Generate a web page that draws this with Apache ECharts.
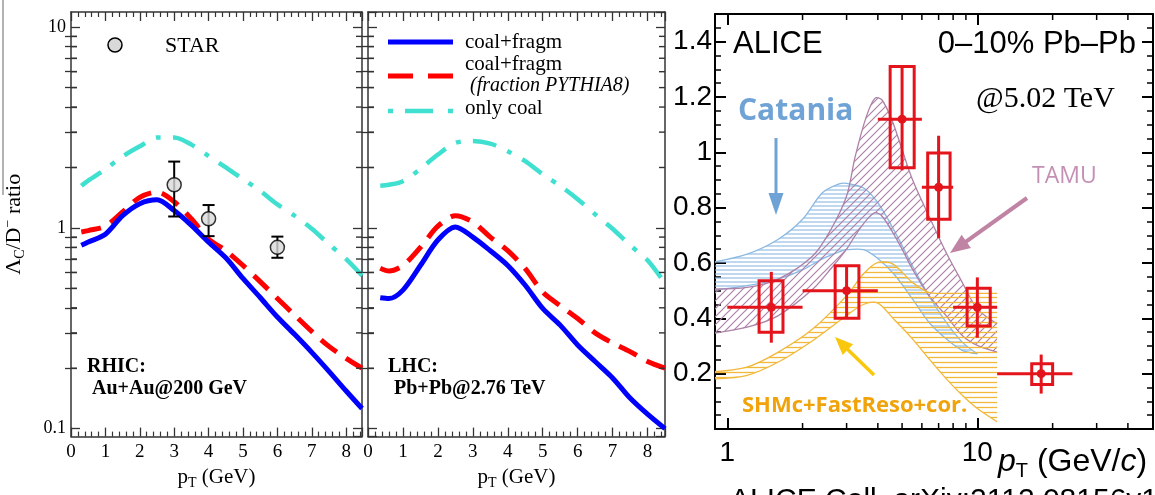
<!DOCTYPE html>
<html><head><meta charset="utf-8">
<script src="https://cdn.jsdelivr.net/npm/echarts@6/dist/echarts.min.js"></script>
<style>html,body{margin:0;padding:0;background:#fff}#c{width:1155px;height:495px}</style>
</head><body><div id="c"></div>
<script>
// ---------------- DATA ----------------
// RHIC Au+Au 200 GeV (left panel)
const rhicX = [0.3, 0.5, 1, 1.5, 2, 2.5, 3, 3.5, 4, 4.5, 5, 5.5, 6, 6.5, 7, 7.5, 8, 8.46];
const rhicCoalFragm = [0.82, 0.85, 0.93, 1.15, 1.32, 1.38, 1.22, 1.03, 0.85, 0.71, 0.56, 0.45, 0.36, 0.295, 0.24, 0.193, 0.154, 0.126];
const rhicCoalFragmPythia = [0.955, 0.97, 1.02, 1.2, 1.42, 1.51, 1.35, 1.11, 0.88, 0.77, 0.65, 0.54, 0.445, 0.368, 0.305, 0.257, 0.224, 0.2];
const rhicOnlyCoal = [1.62, 1.72, 1.96, 2.27, 2.55, 2.82, 2.82, 2.6, 2.28, 2.0, 1.75, 1.53, 1.31, 1.15, 0.99, 0.83, 0.70, 0.58];
// STAR data
const starX = [3, 4, 6];
const starY = [1.64, 1.11, 0.80];
const starLo = [1.14, 0.91, 0.71];
const starHi = [2.14, 1.30, 0.905];
// LHC Pb+Pb 2.76 TeV (middle panel)
const lhcX = [0.35, 0.6, 1, 1.5, 2, 2.5, 3, 3.5, 4, 4.5, 5, 5.5, 6, 6.5, 7, 7.5, 8, 8.5];
const lhcCoalFragm = [0.449, 0.445, 0.49, 0.65, 0.87, 1.01, 0.90, 0.77, 0.65, 0.518, 0.397, 0.328, 0.261, 0.216, 0.179, 0.142, 0.118, 0.1];
const lhcCoalFragmPythia = [0.63, 0.61, 0.65, 0.80, 1.02, 1.15, 1.07, 0.90, 0.77, 0.627, 0.48, 0.41, 0.354, 0.30, 0.267, 0.242, 0.216, 0.2];
const lhcOnlyCoal = [1.62, 1.64, 1.71, 1.97, 2.32, 2.65, 2.71, 2.63, 2.41, 2.15, 1.85, 1.62, 1.39, 1.17, 0.99, 0.82, 0.69, 0.53];
// ALICE 0-10% Pb-Pb 5.02 TeV (right panel)
const aliceX = [1.5, 3, 5, 7, 10, 18];
const aliceY = [0.44, 0.50, 1.12, 0.874, 0.44, 0.20];
const aliceXLo = [1, 2, 4, 6, 8, 12];
const aliceXHi = [2, 4, 6, 8, 12, 24];
const aliceStatLo = [0.312, 0.40, 0.935, 0.69, 0.33, 0.128];
const aliceStatHi = [0.568, 0.59, 1.31, 1.06, 0.548, 0.269];
const aliceSysLo = [0.35, 0.40, 0.944, 0.758, 0.372, 0.161];
const aliceSysHi = [0.536, 0.59, 1.31, 0.998, 0.509, 0.236];
const aliceBoxXLo = [1.34, 2.70, 4.48, 6.33, 9.1, 16.5];
const aliceBoxXHi = [1.67, 3.36, 5.59, 7.78, 11.26, 20.0];
// Model bands
const catX = [0.85, 1.2, 1.6, 2.0, 2.4, 2.8, 3.0, 3.5, 4.0, 4.7, 5.5, 6.4, 7.5, 8.7, 10];
const catHi = [0.60, 0.632, 0.686, 0.758, 0.854, 0.886, 0.888, 0.872, 0.818, 0.71, 0.59, 0.482, 0.386, 0.314, 0.272];
const catLo = [0.50, 0.518, 0.542, 0.575, 0.615, 0.64, 0.648, 0.648, 0.616, 0.554, 0.47, 0.386, 0.326, 0.284, 0.272];
const tamuX = [0.85, 1.2, 1.6, 2.2, 2.6, 3.0, 3.25, 3.6, 3.9, 4.15, 4.55, 5.0, 5.5, 6.4, 7.5, 8.7, 10, 12];
const tamuHi = [0.506, 0.512, 0.542, 0.626, 0.722, 0.842, 0.986, 1.13, 1.196, 1.19, 1.118, 1.01, 0.902, 0.77, 0.638, 0.53, 0.434, 0.38];
const tamuLo = [0.344, 0.368, 0.41, 0.506, 0.58, 0.65, 0.70, 0.755, 0.782, 0.77, 0.716, 0.65, 0.578, 0.482, 0.41, 0.338, 0.302, 0.278];
const shmX = [0.85, 1.2, 1.6, 2.2, 3.0, 3.5, 4.0, 4.6, 5.5, 6.4, 7.5, 8.7, 10, 12];
const shmHi = [0.206, 0.224, 0.278, 0.362, 0.482, 0.56, 0.602, 0.596, 0.53, 0.494, 0.49, 0.49, 0.49, 0.49];
const shmLo = [0.18, 0.194, 0.242, 0.32, 0.41, 0.45, 0.455, 0.40, 0.326, 0.254, 0.182, 0.122, 0.074, 0.026];
// Tick labels
const logYLabels = {'-1': '0.1', '0': '1', '1': '10'};
const logXLabels = {'0': '1', '1': '10'};

// ---------------- HELPERS ----------------
const serif = 'Liberation Serif';
const sans = 'Liberation Sans';
const axC = '#333';
const zip = (a, b) => a.map((v, i) => [v, b[i]]);
function decadeLabel(map) {
  return v => { const l = Math.log10(v), r = Math.round(l); return Math.abs(l - r) < 1e-6 && map[r] !== undefined ? map[r] : ''; };
}
function hatch(color, kind, gap, lw) {
  const c = document.createElement('canvas');
  c.width = gap; c.height = gap;
  const g = c.getContext('2d');
  g.strokeStyle = color; g.lineWidth = lw;
  g.beginPath();
  if (kind === 'h') { g.moveTo(0, gap / 2); g.lineTo(gap, gap / 2); }
  else { g.moveTo(-1, gap + 1); g.lineTo(gap + 1, -1); g.moveTo(-1, 1); g.lineTo(1, -1); g.moveTo(gap - 1, gap + 1); g.lineTo(gap + 1, gap - 1); }
  g.stroke();
  return {image: c, repeat: 'repeat'};
}
function arrow(x1, y1, x2, y2, color, w, hl, hw) {
  const dx = x2 - x1, dy = y2 - y1, L = Math.hypot(dx, dy), ux = dx / L, uy = dy / L;
  const bx = x2 - ux * hl, by = y2 - uy * hl;
  return {type: 'group', children: [
    {type: 'line', shape: {x1, y1, x2: bx + ux * 2, y2: by + uy * 2}, style: {stroke: color, lineWidth: w}},
    {type: 'polygon', shape: {points: [[x2, y2], [bx - uy * hw / 2, by + ux * hw / 2], [bx + uy * hw / 2, by - ux * hw / 2]]}, style: {fill: color}}
  ]};
}
const subRich = {
  n: {fontFamily: serif, fontSize: 21, color: '#000'},
  t: {fontFamily: serif, fontSize: 14, color: '#000', verticalAlign: 'bottom', padding: [12, 0, 0, 0]}
};
function linX(gi, max, pos, show) {
  return {type: 'value', gridIndex: gi, position: pos, min: 0, max, interval: 1,
    axisLine: {show: true, onZero: false, lineStyle: {color: axC, width: 1.5}},
    axisTick: {show: true, inside: true, length: 9, lineStyle: {color: axC, width: 1.3}},
    minorTick: {show: true, splitNumber: 5, length: 5, lineStyle: {color: axC, width: 1.2}},
    splitLine: {show: false}, minorSplitLine: {show: false},
    axisLabel: {show: show, showMaxLabel: false, margin: 6, fontFamily: serif, fontSize: 19, color: '#000'},
    name: show ? '{n|p}{t|T}{n| (GeV)}' : '', nameLocation: 'middle', nameGap: 21,
    nameTextStyle: {rich: subRich}};
}
function logY(gi, pos, show, name) {
  return {type: 'log', logBase: 10, gridIndex: gi, position: pos, min: 0.0913, max: 11.9,
    axisLine: {show: true, onZero: false, lineStyle: {color: axC, width: 1.5}},
    axisTick: {show: true, inside: true, length: 9, lineStyle: {color: axC, width: 1.3}},
    minorTick: {show: false}, splitLine: {show: false}, minorSplitLine: {show: false},
    axisLabel: {show: show, formatter: decadeLabel(logYLabels), showMinLabel: false, showMaxLabel: false, margin: 5, fontFamily: serif, fontSize: 18, color: '#000'},
    name: name || '', nameLocation: 'middle', nameGap: 44, nameRotate: 90,
    nameTextStyle: {rich: {
      n: {fontFamily: serif, fontSize: 22, color: '#000'},
      t: {fontFamily: serif, fontSize: 14, color: '#000', verticalAlign: 'bottom', padding: [12, 0, 0, 0]},
      s: {fontFamily: serif, fontSize: 14, color: '#000', verticalAlign: 'top', padding: [0, 0, 12, 0]}
    }}};
}
const minorYVals = [];
for (const d of [0.1, 1]) for (let k = 2; k <= 9; k++) minorYVals.push(+(k * d).toFixed(2));
const minorXVals = [2, 3, 4, 5, 6, 7, 8, 9, 20, 30, 40];
// overlay log axis carrying only the minor ticks (2..9 x decade)
function minorOverlay(gi, pos) {
  return {type: 'log', logBase: 10, gridIndex: gi, position: pos, min: 0.0913, max: 11.9,
    axisLine: {show: false}, axisLabel: {show: false}, splitLine: {show: false}, minorTick: {show: false},
    axisTick: {show: true, inside: true, length: 6, customValues: minorYVals, lineStyle: {color: axC, width: 1.3}}};
}

function lineSeries(gi, xs, ys, color, width, type) {
  return {type: 'line', xAxisIndex: gi, yAxisIndex: gi, data: zip(xs, ys), showSymbol: false, smooth: 0.3,
    lineStyle: {color, width, type, cap: 'butt'}, z: 3, silent: true};
}
function errSeries(gi) {
  return {type: 'custom', xAxisIndex: gi, yAxisIndex: gi, z: 4, silent: true,
    data: starX.map((x, i) => [x, starY[i], starLo[i], starHi[i]]),
    renderItem(params, api) {
      const x = api.coord([api.value(0), api.value(1)])[0];
      const lo = api.coord([api.value(0), api.value(2)])[1];
      const hi = api.coord([api.value(0), api.value(3)])[1];
      const st = {stroke: '#000', lineWidth: 2};
      return {type: 'group', children: [
        {type: 'line', shape: {x1: x, y1: lo, x2: x, y2: hi}, style: st},
        {type: 'line', shape: {x1: x - 6, y1: lo, x2: x + 6, y2: lo}, style: st},
        {type: 'line', shape: {x1: x - 6, y1: hi, x2: x + 6, y2: hi}, style: st}
      ]};
    }};
}
function bandSeries(xs, lo, hi, color, pattern) {
  return {type: 'custom', xAxisIndex: 4, yAxisIndex: 4, clip: true, silent: true, z: 2,
    data: [[xs[0], lo[0]]],
    renderItem(params, api) {
      const up = xs.map((x, i) => api.coord([x, hi[i]]));
      const dn = xs.map((x, i) => api.coord([x, lo[i]]));
      const rdn = dn.slice().reverse();
      const poly = [up[0]].concat(up, [up[up.length - 1], rdn[0]], rdn, [rdn[rdn.length - 1]]);
      return {type: 'group', children: [
        {type: 'polygon', shape: {points: poly, smooth: 0.3}, style: {fill: pattern, stroke: null}},
        {type: 'polyline', shape: {points: up, smooth: 0.3}, style: {stroke: color, lineWidth: 1.3, fill: null}},
        {type: 'polyline', shape: {points: dn, smooth: 0.3}, style: {stroke: color, lineWidth: 1.3, fill: null}}
      ]};
    }};
}

const red = '#e3141b';
const aliceSeries = {type: 'custom', xAxisIndex: 4, yAxisIndex: 4, z: 6, silent: true,
  data: aliceX.map((x, i) => [x, aliceY[i], aliceXLo[i], aliceXHi[i], aliceStatLo[i], aliceStatHi[i], aliceSysLo[i], aliceSysHi[i], aliceBoxXLo[i], aliceBoxXHi[i]]),
  renderItem(params, api) {
    const v = k => api.value(k);
    const c = api.coord([v(0), v(1)]);
    const xl = api.coord([v(2), v(1)])[0], xh = api.coord([v(3), v(1)])[0];
    const yl = api.coord([v(0), v(4)])[1], yh = api.coord([v(0), v(5)])[1];
    const b0 = api.coord([v(8), v(6)]), b1 = api.coord([v(9), v(7)]);
    const st = {stroke: red, lineWidth: 3, fill: null};
    return {type: 'group', children: [
      {type: 'line', shape: {x1: xl, y1: c[1], x2: xh, y2: c[1]}, style: st},
      {type: 'line', shape: {x1: c[0], y1: yl, x2: c[0], y2: yh}, style: st},
      {type: 'rect', shape: {x: b0[0], y: b1[1], width: b1[0] - b0[0], height: b0[1] - b1[1]}, style: st},
      {type: 'circle', shape: {cx: c[0], cy: c[1], r: 4.5}, style: {fill: red}}
    ]};
  }};
const minorLogX = {type: 'custom', xAxisIndex: 4, yAxisIndex: 4, silent: true, z: 5,
  data: minorXVals.map(v => [v, 0.5]),
  renderItem(params, api) {
    const x = api.coord([api.value(0), api.value(1)])[0];
    const cs = params.coordSys;
    const st = {stroke: '#000', lineWidth: 1.5};
    return {type: 'group', children: [
      {type: 'line', shape: {x1: x, y1: cs.y + cs.height, x2: x, y2: cs.y + cs.height - 6}, style: st},
      {type: 'line', shape: {x1: x, y1: cs.y, x2: x, y2: cs.y + 6}, style: st}
    ]};
  }};

const rAx = {axisLine: {show: true, onZero: false, lineStyle: {color: '#000', width: 2}},
  axisTick: {show: true, inside: true, length: 11, lineStyle: {color: '#000', width: 2}},
  splitLine: {show: false}, minorSplitLine: {show: false}};

const staticGraphics = [
  // left strip remnant
  {type: 'line', shape: {x1: 3, y1: 0, x2: 3, y2: 195}, style: {stroke: '#666', lineWidth: 1}},
  // STAR legend
  {type: 'circle', shape: {cx: 115, cy: 45, r: 7}, style: {fill: '#d9d9d9', stroke: '#000', lineWidth: 1.5}},
  {type: 'text', style: {x: 165, y: 46, text: 'STAR', font: '22px "Liberation Serif"', fill: '#000', verticalAlign: 'middle'}},
  {type: 'text', style: {x: 87, y: 367, text: 'RHIC:', font: 'bold 20px "Liberation Serif"', fill: '#000', verticalAlign: 'middle'}},
  {type: 'text', style: {x: 92, y: 389, text: 'Au+Au@200 GeV', font: 'bold 20px "Liberation Serif"', fill: '#000', verticalAlign: 'middle'}},
  {type: 'text', style: {x: 388, y: 367, text: 'LHC:', font: 'bold 20px "Liberation Serif"', fill: '#000', verticalAlign: 'middle'}},
  {type: 'text', style: {x: 394, y: 389, text: 'Pb+Pb@2.76 TeV', font: 'bold 20px "Liberation Serif"', fill: '#000', verticalAlign: 'middle'}},
  // model legend (middle panel)
  {type: 'line', shape: {x1: 388, y1: 42, x2: 453, y2: 42}, style: {stroke: '#0000ff', lineWidth: 5}},
  {type: 'text', style: {x: 465, y: 42, text: 'coal+fragm', font: '21px "Liberation Serif"', fill: '#000', verticalAlign: 'middle'}},
  {type: 'line', shape: {x1: 388, y1: 76, x2: 453, y2: 76}, style: {stroke: '#ff0000', lineWidth: 5, lineDash: [25, 15]}},
  {type: 'text', style: {x: 465, y: 64, text: 'coal+fragm', font: '21px "Liberation Serif"', fill: '#000', verticalAlign: 'middle'}},
  {type: 'text', style: {x: 470, y: 86, text: '(fraction PYTHIA8)', font: 'italic 20px "Liberation Serif"', fill: '#000', verticalAlign: 'middle'}},
  {type: 'line', shape: {x1: 388, y1: 111, x2: 453, y2: 111}, style: {stroke: '#40e0d0', lineWidth: 4.5, lineDash: [5, 12, 28, 15]}},
  {type: 'text', style: {x: 465, y: 108, text: 'only coal', font: '21px "Liberation Serif"', fill: '#000', verticalAlign: 'middle'}},
  // ALICE panel annotations
  {type: 'text', style: {x: 733, y: 44, text: 'ALICE', font: '31px "Liberation Sans"', fill: '#000', verticalAlign: 'middle'}},
  {type: 'text', style: {x: 1136, y: 44, text: '0–10% Pb–Pb', font: '31px "Liberation Sans"', fill: '#000', align: 'right', verticalAlign: 'middle'}},
  {type: 'text', style: {x: 976, y: 99, text: '@5.02 TeV', font: '30px "Liberation Serif"', fill: '#000', verticalAlign: 'middle'}},
  {type: 'text', style: {x: 738, y: 111, text: 'Catania', font: 'bold 30px "Open Sans"', fill: '#6fa3d6', verticalAlign: 'middle'}},
  {type: 'text', style: {x: 1032, y: 176, text: 'TAMU', font: '23px "Open Sans"', fill: '#c490b5', verticalAlign: 'middle'}},
  {type: 'text', style: {x: 742, y: 406, text: 'SHMc+FastReso+cor.', font: 'bold 22px "Open Sans"', fill: '#f0a30a', verticalAlign: 'middle'}},
  arrow(776, 138, 776, 215, '#6fa3d6', 3, 22, 15),
  arrow(1027, 198, 950, 253, '#c083a3', 4, 20, 16),
  arrow(874, 375, 835, 337, '#f9c80e', 3.5, 18, 15),
  {type: 'text', style: {x: 998, y: 462, text: '{p|p}{t|T}{n| (GeV/}{p|c}{n|)}', verticalAlign: 'middle',
    rich: {p: {fontFamily: sans, fontStyle: 'italic', fontSize: 32, color: '#000'}, n: {fontFamily: sans, fontSize: 32, color: '#000'},
      t: {fontFamily: sans, fontSize: 20, color: '#000', verticalAlign: 'bottom', padding: [18, 0, 0, 0]}}}},
  {type: 'text', style: {x: 730, y: 486, text: 'ALICE Coll. arXiv:2112.08156v1', font: '30px "Liberation Sans"', fill: '#000', verticalAlign: 'top'}}
];

const chart = echarts.init(document.getElementById('c'), null, {renderer: 'canvas'});
chart.setOption({
  animation: false,
  backgroundColor: '#fff',
  grid: [
    {left: 65, top: 12, width: 297, height: 427},
    {left: 368, top: 12, width: 297, height: 427},
    {left: 715, top: 14, width: 438, height: 415}
  ],
  xAxis: [
    linX(0, 8.46, 'bottom', true), linX(0, 8.46, 'top', false),
    linX(1, 8.5, 'bottom', true), linX(1, 8.5, 'top', false),
    Object.assign({type: 'log', logBase: 10, gridIndex: 2, position: 'bottom', min: 0.893, max: 50.4,
      axisLabel: {formatter: decadeLabel(logXLabels), showMinLabel: false, showMaxLabel: false, margin: 10, fontFamily: sans, fontSize: 28, color: '#000'}}, rAx),
    Object.assign({type: 'log', logBase: 10, gridIndex: 2, position: 'top', min: 0.893, max: 50.4, axisLabel: {show: false}}, rAx)
  ],
  yAxis: [
    logY(0, 'left', true, '{n|Λ}{t|C}{n|/D}{s|−}{n| ratio}'), logY(0, 'right', false),
    logY(1, 'left', false), logY(1, 'right', false),
    Object.assign({type: 'value', gridIndex: 2, position: 'left', min: 0, max: 1.5, interval: 0.2,
      minorTick: {show: true, splitNumber: 4, length: 6, lineStyle: {color: '#000', width: 1.5}},
      axisLabel: {showMinLabel: false, showMaxLabel: false, margin: 3, fontFamily: sans, fontSize: 28, color: '#000'}}, rAx),
    Object.assign({type: 'value', gridIndex: 2, position: 'right', min: 0, max: 1.5, interval: 0.2,
      minorTick: {show: true, splitNumber: 4, length: 6, lineStyle: {color: '#000', width: 1.5}},
      axisLabel: {show: false}}, rAx),
    minorOverlay(0, 'left'), minorOverlay(0, 'right'),
    minorOverlay(1, 'left'), minorOverlay(1, 'right')
  ],
  series: [
    lineSeries(0, rhicX, rhicOnlyCoal, '#40e0d0', 4.5, [24, 12, 5, 12]),
    lineSeries(0, rhicX, rhicCoalFragmPythia, '#ff0000', 5, [20, 11]),
    lineSeries(0, rhicX, rhicCoalFragm, '#0000ff', 5, 'solid'),
    errSeries(0),
    {type: 'scatter', xAxisIndex: 0, yAxisIndex: 0, data: zip(starX, starY), symbol: 'circle', symbolSize: 14, z: 5, silent: true,
      itemStyle: {color: '#d9d9d9', borderColor: '#000', borderWidth: 1.5}},
    lineSeries(2, lhcX, lhcOnlyCoal, '#40e0d0', 4.5, [24, 12, 5, 12]),
    lineSeries(2, lhcX, lhcCoalFragmPythia, '#ff0000', 5, [20, 11]),
    lineSeries(2, lhcX, lhcCoalFragm, '#0000ff', 5, 'solid'),
    bandSeries(catX, catLo, catHi, '#8ab9e4', hatch('#8ab9e4', 'h', 4, 1.1)),
    bandSeries(tamuX, tamuLo, tamuHi, '#ae80a8', hatch('#ae80a8', 'd', 8, 1.2)),
    bandSeries(shmX, shmLo, shmHi, '#f2b83a', hatch('#f2b83a', 'h', 5, 1.3)),
    minorLogX,
    aliceSeries
  ]
});

// minor ticks of the log y axes (left and middle panels), positioned through the axes' own scales
const tickGraphics = [];
[[0, 8.46], [2, 8.5]].forEach(([ai, xmax]) => {
  minorYVals.forEach(v => {
    const pL = chart.convertToPixel({xAxisIndex: ai, yAxisIndex: ai}, [0, v]);
    const pR = chart.convertToPixel({xAxisIndex: ai, yAxisIndex: ai}, [xmax, v]);
    if (!pL || !pR || !isFinite(pL[1])) return;
    tickGraphics.push({type: 'line', z: 50, shape: {x1: pL[0], y1: pL[1], x2: pL[0] + 6, y2: pL[1]}, style: {stroke: axC, lineWidth: 1.4}});
    tickGraphics.push({type: 'line', z: 50, shape: {x1: pR[0] - 6, y1: pR[1], x2: pR[0], y2: pR[1]}, style: {stroke: axC, lineWidth: 1.4}});
  });
});
chart.setOption({graphic: tickGraphics.concat(staticGraphics)});
</script></body></html>
